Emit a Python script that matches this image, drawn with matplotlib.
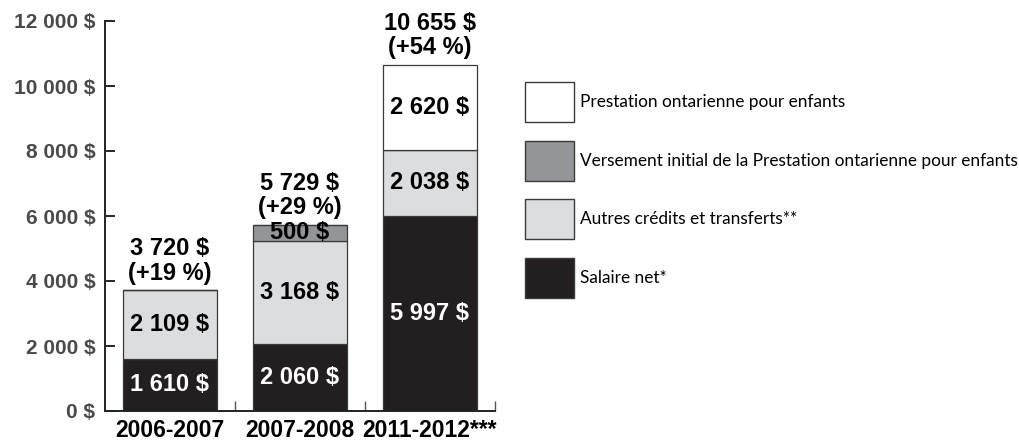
import numpy as np
import matplotlib as mpl
mpl.use("Agg")
import matplotlib.pyplot as plt
from matplotlib.patches import Rectangle

# Data
categories = ["2006-2007", "2007-2008", "2011-2012***"]
salaire = [1610, 2060, 5997]
autres = [2109, 3168, 2038]
versement = [0, 500, 0]
prestation = [0, 0, 2620]
totals = [3720, 5729, 10655]
hausse = ["+19 %", "+29 %", "+54 %"]

series = [
    ("Salaire net*", salaire, "#231f20", "white"),
    ("Autres crédits et transferts**", autres, "#dcdddf", "black"),
    ("Versement initial de la Prestation ontarienne pour enfants", versement, "#939598", "black"),
    ("Prestation ontarienne pour enfants", prestation, "white", "black"),
]


def money(v):
    return "{:,}".format(int(v)).replace(",", " ") + " $"


mpl.rc("font", family="Liberation Sans")

fig = plt.figure(figsize=(10.2, 4.41), dpi=100)
ax = fig.add_axes([105/1020, 30/441, 390/1020, 390/441])

x = np.arange(len(categories)) + 0.5
bottom = np.zeros(len(categories))
for name, vals, color, tcolor in series:
    vals = np.array(vals, dtype=float)
    ax.bar(x, vals, width=0.72, bottom=bottom, color=color,
           edgecolor="#3a3a3a", linewidth=0.9, zorder=2)
    for xi, b, v in zip(x, bottom, vals):
        if v > 0:
            ax.text(xi, b + v/2, money(v), ha="center", va="center",
                    color=tcolor, fontsize=17, fontweight="bold", zorder=3)
    bottom += vals

for xi, t, h in zip(x, totals, hausse):
    ax.text(xi, t + 170, money(t) + "\n(" + h + ")", ha="center", va="bottom",
            fontsize=17, fontweight="bold", linespacing=1.08, clip_on=False)

ax.set_xlim(0, 3)
ax.set_ylim(0, 12000)
ax.set_yticks(np.arange(0, 12001, 2000))
ax.yaxis.set_major_formatter(mpl.ticker.FuncFormatter(lambda v, p: money(v)))
ax.tick_params(axis="y", direction="in", length=7, width=1.2, pad=7,
               labelsize=15, labelcolor="#4a4a4a")
for lab in ax.get_yticklabels():
    lab.set_fontweight("bold")

ax.set_xticks(x)
ax.set_xticklabels(categories, fontsize=16.5, fontweight="bold")
ax.set_xticks([1, 2, 3], minor=True)
ax.tick_params(axis="x", which="major", length=0, pad=6)
ax.tick_params(axis="x", which="minor", direction="in", length=7, width=1.0,
               color="#555555")

for s in ["top", "right"]:
    ax.spines[s].set_visible(False)
for s in ["left", "bottom"]:
    ax.spines[s].set_linewidth(1.4)
    ax.spines[s].set_color("#222222")

# legend drawn as boxes + text, top to bottom
leg_top = [82, 141, 199, 258]
for (name, vals, color, tcolor), y0 in zip(series[::-1], leg_top):
    fig.add_artist(Rectangle((525/1020, 1 - (y0 + 40)/441), 49/1020, 40/441,
                             facecolor=color, edgecolor="#3a3a3a", linewidth=1.0,
                             transform=fig.transFigure))
    fig.text(580/1020, 1 - (y0 + 20)/441, name, ha="left", va="center",
             fontsize=12.4, family="Lato")

fig.savefig("out.png", dpi=100)
